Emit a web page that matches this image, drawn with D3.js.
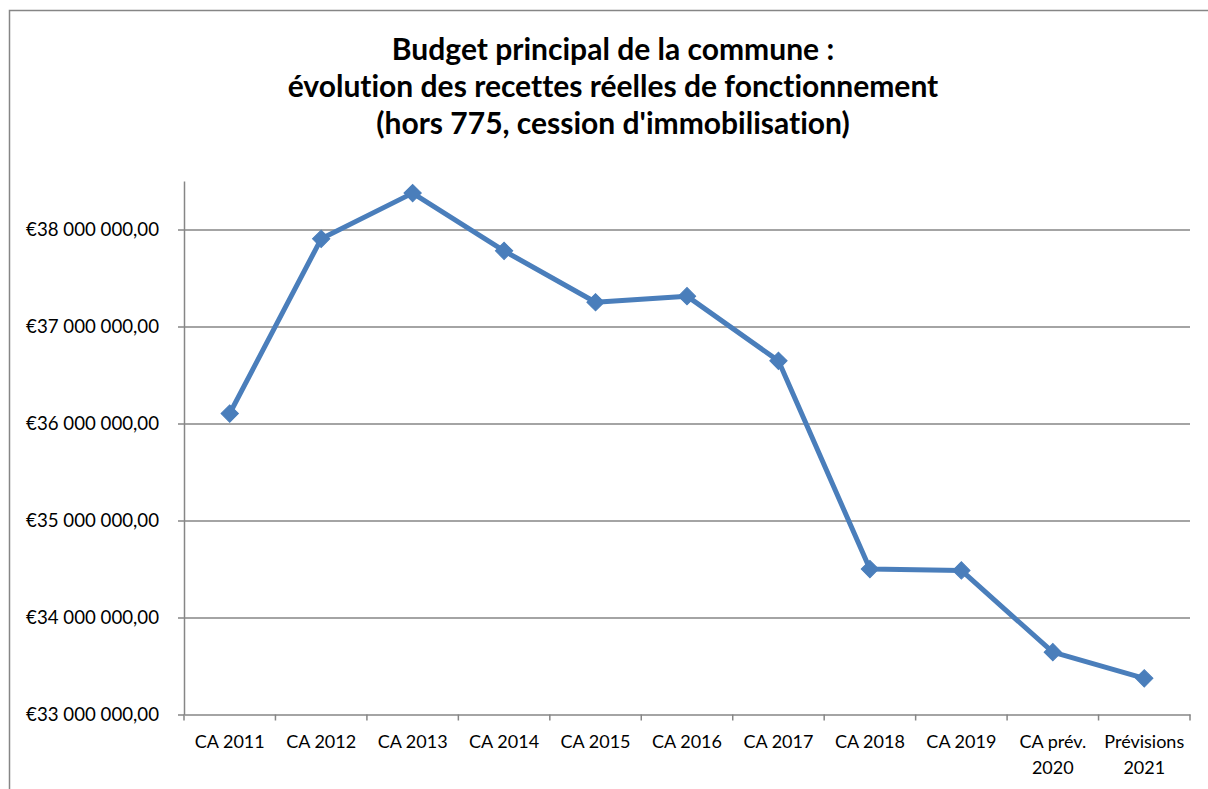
<!DOCTYPE html>
<html>
<head>
<meta charset="utf-8">
<script src="https://cdn.jsdelivr.net/npm/d3@7"></script>
<style>
  html, body { margin: 0; padding: 0; background: #ffffff; }
  svg { display: block; }
  text { font-variant-ligatures: none; font-feature-settings: "liga" 0, "clig" 0; }
</style>
</head>
<body>
<svg id="chart" width="1208" height="789"></svg>
<script>
// ---- DATA ----
const categories = ["CA 2011", "CA 2012", "CA 2013", "CA 2014", "CA 2015", "CA 2016",
                    "CA 2017", "CA 2018", "CA 2019", "CA prév. 2020", "Prévisions 2021"];
const categoryLabelLines = [["CA 2011"], ["CA 2012"], ["CA 2013"], ["CA 2014"], ["CA 2015"], ["CA 2016"],
                            ["CA 2017"], ["CA 2018"], ["CA 2019"], ["CA prév.", "2020"], ["Prévisions", "2021"]];
const values = [36103000, 37904000, 38375000, 37780000, 37250000, 37313000,
                36646000, 34499000, 34485000, 33643000, 33373000];
const yTicks = [33000000, 34000000, 35000000, 36000000, 37000000, 38000000];
const yDomain = [33000000, 38500000];
const titleLines = ["Budget principal de la commune :",
                    "évolution des recettes réelles de fonctionnement",
                    "(hors 775, cession d'immobilisation)"];

// ---- STYLE ----
const FONT = "Lato, 'Open Sans', sans-serif";
const GRID = "#868686";
const BLUE = "#4a7ebb";

const svg = d3.select("#chart");

function fitSize(text, weight, target) {
  const t = svg.append("text").attr("font-family", FONT).attr("font-weight", weight)
    .attr("font-size", 100).text(text);
  const w = t.node().getComputedTextLength();
  t.remove();
  return 100 * target / w;
}

const yFont = fitSize("€38 000 000,00", "normal", 133);
const xFont = fitSize("CA 2011", "normal", 70);
const tFont = fitSize(titleLines[1], "bold", 651);

// outer chart border
svg.append("rect").attr("x", 9.5).attr("y", 10.5).attr("width", 1300).attr("height", 900)
  .attr("fill", "#fff").attr("stroke", GRID).attr("stroke-width", 1.5);

const plotLeft = 184, plotRight = 1190, plotTop = 181, plotBottom = 714.5;

const x = d3.scaleBand().domain(categories).range([plotLeft, plotRight]);
const y = d3.scaleLinear().domain(yDomain).range([plotBottom, plotTop]);

const fr = d3.formatLocale({ decimal: ",", thousands: " ", grouping: [3], currency: ["€", ""] });
const fmt = fr.format("$,.2f");

// gridlines
const grid = svg.append("g").attr("transform", `translate(${plotLeft},0)`)
  .call(d3.axisLeft(y).tickValues(yTicks.filter(v => v !== yDomain[0])).tickSize(-(plotRight - plotLeft)).tickFormat(""));
grid.select(".domain").remove();
grid.selectAll("line").attr("stroke", GRID).attr("stroke-width", 1.5);

// y axis
const yAxis = svg.append("g").attr("transform", `translate(${plotLeft},0)`)
  .call(d3.axisLeft(y).tickValues(yTicks).tickSize(6).tickSizeOuter(0).tickPadding(19).tickFormat(fmt));
yAxis.select(".domain").attr("stroke", GRID).attr("stroke-width", 1.5);
yAxis.selectAll(".tick line").attr("stroke", GRID).attr("stroke-width", 1.5);
yAxis.selectAll("text").attr("font-family", FONT).attr("font-size", yFont).attr("fill", "#000");

// x axis
const xAxis = svg.append("g").attr("transform", `translate(0,${plotBottom})`)
  .call(d3.axisBottom(x).tickSize(0).tickSizeOuter(0).tickFormat(""));
xAxis.select(".domain").attr("stroke", GRID).attr("stroke-width", 1.5);
const boundaries = categories.map(c => x(c)).concat([x.range()[1]]);
xAxis.selectAll(".bound").data(boundaries).join("line").attr("class", "bound")
  .attr("x1", d => d).attr("x2", d => d).attr("y1", 0).attr("y2", 6)
  .attr("stroke", GRID).attr("stroke-width", 1.5);

const xl = svg.append("g");
categories.forEach((c, i) => {
  const t = xl.append("text").attr("text-anchor", "middle")
    .attr("font-family", FONT).attr("font-size", xFont).attr("fill", "#000");
  categoryLabelLines[i].forEach((ln, j) => {
    t.append("tspan").attr("x", x(c) + x.bandwidth() / 2).attr("y", 748 + j * 26).text(ln);
  });
});

// line
const cx = (d, i) => x(categories[i]) + x.bandwidth() / 2;
svg.append("path").datum(values)
  .attr("d", d3.line().x(cx).y(d => y(d)))
  .attr("fill", "none").attr("stroke", BLUE).attr("stroke-width", 5).attr("stroke-linejoin", "round");

// markers
svg.selectAll(".mk").data(values).join("path").attr("class", "mk")
  .attr("d", d3.symbol(d3.symbolSquare, 150))
  .attr("transform", (d, i) => `translate(${cx(d, i)},${y(d)}) rotate(45)`)
  .attr("fill", BLUE).attr("stroke", BLUE).attr("stroke-width", 1);

// title
svg.append("g").selectAll("text").data(titleLines).join("text")
  .attr("x", 613).attr("y", (d, i) => 59.5 + i * 37)
  .attr("text-anchor", "middle").attr("font-family", FONT).attr("font-weight", "bold")
  .attr("font-size", tFont).attr("fill", "#000").text(d => d);
</script>
</body>
</html>
